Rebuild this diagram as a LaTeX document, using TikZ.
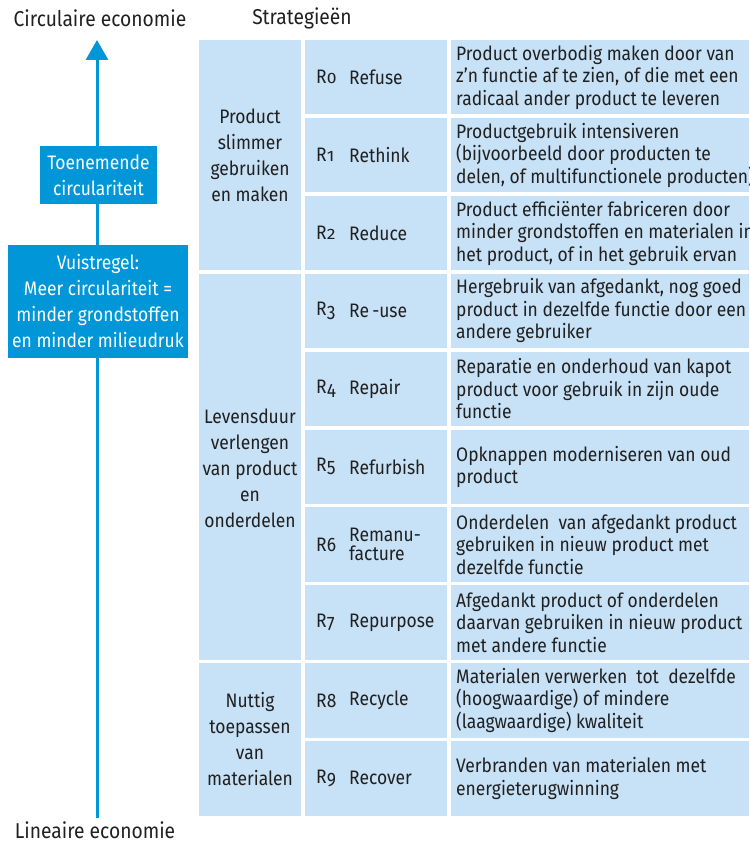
\documentclass[tikz,border=0pt]{standalone}
\usepackage{graphicx}
\usepackage{fontspec}
\setmainfont{Fira Sans}[FakeStretch=0.895]
\usetikzlibrary{arrows.meta}
\definecolor{lightcell}{RGB}{199,225,246}
\definecolor{boxblue}{RGB}{0,150,215}
\definecolor{txt}{RGB}{32,32,32}
\newcommand{\osdesc}[1]{\raisebox{-0.165em}{#1}}
\newcommand{\ossmall}[1]{\scalebox{1}[0.77]{#1}}
\tikzset{
  cell/.style={fill=lightcell, anchor=north west, inner sep=0pt, outer sep=0pt, minimum height=74.5pt},
  c1cell/.style={fill=lightcell, anchor=north west, inner sep=0pt, outer sep=0pt, minimum width=102pt},
  grouptext/.style={text=txt, inner sep=0pt, align=center, font=\fontsize{19.5}{26}\selectfont},
  numtext/.style={text=txt, inner sep=0pt, anchor=west, font=\fontsize{19.5}{22.5}\selectfont},
  desctext/.style={text=txt, inner sep=0pt, anchor=west, align=left, font=\fontsize{19.5}{22.5}\selectfont},
  bluebox/.style={fill=boxblue, text=white, align=center, inner sep=0pt, font=\fontsize{19.5}{26}\selectfont},
  titletext/.style={text=txt, inner sep=0pt, font=\fontsize{21.5}{24}\selectfont},
}
\begin{document}
\begin{tikzpicture}[x=1pt,y=-1pt]
\useasboundingbox (0,0) rectangle (749,845);

% titles
\node[titletext] (tcirc) at (100,18) {Circulaire economie};
\node[titletext] (tstrat) at (302,18) {Strategieën};
\node[titletext] (tlin) at (95,830) {Lineaire economie};

% arrow
\coordinate (abot) at (97,818);
\coordinate (atop) at (97,40);
\draw[draw=boxblue, fill=boxblue, line width=3pt, -{Triangle[width=22pt,length=20pt]}] (abot) -- (atop);

% dark boxes
\node[bluebox, minimum width=117pt, minimum height=58pt] (toen) at (98.5,175) {Toenemende\\circulariteit};
\node[bluebox, minimum width=180pt, minimum height=113pt] (vuist) at (98,301.5) {Vuistregel:\\Meer circulariteit =\\minder grondstoffen\\en minder milieudruk};

% column 1 groups
\node[c1cell, minimum height=230.3pt] (g1) at (199,40) {};
\node[c1cell, minimum height=386.1pt] (g2) at (199,273.7) {};
\node[c1cell, minimum height=152.4pt] (g3) at (199,663.2) {};
\node[grouptext] (g1t) at (g1.center) {Product\\slimmer\\gebruiken\\en maken};
\node[grouptext] (g2t) at ([yshift=-2pt]g2.center) {Levensduur\\verlengen\\van product\\en\\onderdelen};
\node[grouptext] (g3t) at (g3.center) {Nuttig\\toepassen\\van\\materialen};

% column 2 cells
\node[cell, minimum width=142pt] (n0) at (305,40.0) {};
\node[cell, minimum width=142pt] (n1) at (305,117.9) {};
\node[cell, minimum width=142pt] (n2) at (305,195.8) {};
\node[cell, minimum width=142pt] (n3) at (305,273.7) {};
\node[cell, minimum width=142pt] (n4) at (305,351.6) {};
\node[cell, minimum width=142pt] (n5) at (305,429.5) {};
\node[cell, minimum width=142pt] (n6) at (305,507.4) {};
\node[cell, minimum width=142pt] (n7) at (305,585.3) {};
\node[cell, minimum width=142pt] (n8) at (305,663.2) {};
\node[cell, minimum width=142pt] (n9) at (305,741.1) {};

% column 3 cells
\node[cell, minimum width=298pt] (d0) at (451,40.0) {};
\node[cell, minimum width=298pt] (d1) at (451,117.9) {};
\node[cell, minimum width=298pt] (d2) at (451,195.8) {};
\node[cell, minimum width=298pt] (d3) at (451,273.7) {};
\node[cell, minimum width=298pt] (d4) at (451,351.6) {};
\node[cell, minimum width=298pt] (d5) at (451,429.5) {};
\node[cell, minimum width=298pt] (d6) at (451,507.4) {};
\node[cell, minimum width=298pt] (d7) at (451,585.3) {};
\node[cell, minimum width=298pt] (d8) at (451,663.2) {};
\node[cell, minimum width=298pt] (d9) at (451,741.1) {};

% column 2 texts
\node[numtext] (r0) at ([xshift=11pt]n0.west) {R\ossmall{0}};
\node[numtext] (s0) at ([xshift=44pt]n0.west) {Refuse};
\node[numtext] (r1) at ([xshift=11pt]n1.west) {R\ossmall{1}};
\node[numtext] (s1) at ([xshift=44pt]n1.west) {Rethink};
\node[numtext] (r2) at ([xshift=11pt]n2.west) {R\ossmall{2}};
\node[numtext] (s2) at ([xshift=44pt]n2.west) {Reduce};
\node[numtext] (r3) at ([xshift=11pt]n3.west) {R\osdesc{3}};
\node[numtext] (s3) at ([xshift=44pt]n3.west) {Re\,-use};
\node[numtext] (r4) at ([xshift=11pt]n4.west) {R\osdesc{4}};
\node[numtext] (s4) at ([xshift=44pt]n4.west) {Repair};
\node[numtext] (r5) at ([xshift=11pt]n5.west) {R\osdesc{5}};
\node[numtext] (s5) at ([xshift=44pt]n5.west) {Refurbish};
\node[numtext] (r6) at ([xshift=11pt]n6.west) {R6};
\node[numtext, align=left, font=\fontsize{19.5}{19}\selectfont] (s6) at ([xshift=44pt]n6.west) {Remanu-\\facture};
\node[numtext] (r7) at ([xshift=11pt]n7.west) {R\osdesc{7}};
\node[numtext] (s7) at ([xshift=44pt]n7.west) {Repurpose};
\node[numtext] (r8) at ([xshift=11pt]n8.west) {R8};
\node[numtext] (s8) at ([xshift=44pt]n8.west) {Recycle};
\node[numtext] (r9) at ([xshift=11pt]n9.west) {R\osdesc{9}};
\node[numtext] (s9) at ([xshift=44pt]n9.west) {Recover};

% column 3 texts
\node[desctext] (e0) at ([xshift=5pt]d0.west) {Product overbodig maken door van\\z’n functie af te zien, of die met een\\radicaal ander product te leveren};
\node[desctext] (e1) at ([xshift=5pt]d1.west) {Productgebruik intensiveren\\(bijvoorbeeld door producten te\\delen, of multifunctionele producten)};
\node[desctext] (e2) at ([xshift=5pt]d2.west) {Product efficiënter fabriceren door\\minder grondstoffen en materialen in\\het product, of in het gebruik ervan};
\node[desctext] (e3) at ([xshift=5pt]d3.west) {Hergebruik van afgedankt, nog goed\\product in dezelfde functie door een\\andere gebruiker};
\node[desctext] (e4) at ([xshift=5pt]d4.west) {Reparatie en onderhoud van kapot\\product voor gebruik in zijn oude\\functie};
\node[desctext] (e5) at ([xshift=5pt]d5.west) {Opknappen moderniseren van oud\\product};
\node[desctext] (e6) at ([xshift=5pt]d6.west) {Onderdelen\ \ van afgedankt product\\gebruiken in nieuw product met\\dezelfde functie};
\node[desctext] (e7) at ([xshift=5pt]d7.west) {Afgedankt product of onderdelen\\daarvan gebruiken in nieuw product\\met andere functie};
\node[desctext] (e8) at ([xshift=5pt]d8.west) {Materialen verwerken\ \ tot\ \ dezelfde\\(hoogwaardige) of mindere\\(laagwaardige) kwaliteit};
\node[desctext] (e9) at ([xshift=5pt]d9.west) {Verbranden van materialen met\\energieterugwinning};
\end{tikzpicture}
\end{document}
